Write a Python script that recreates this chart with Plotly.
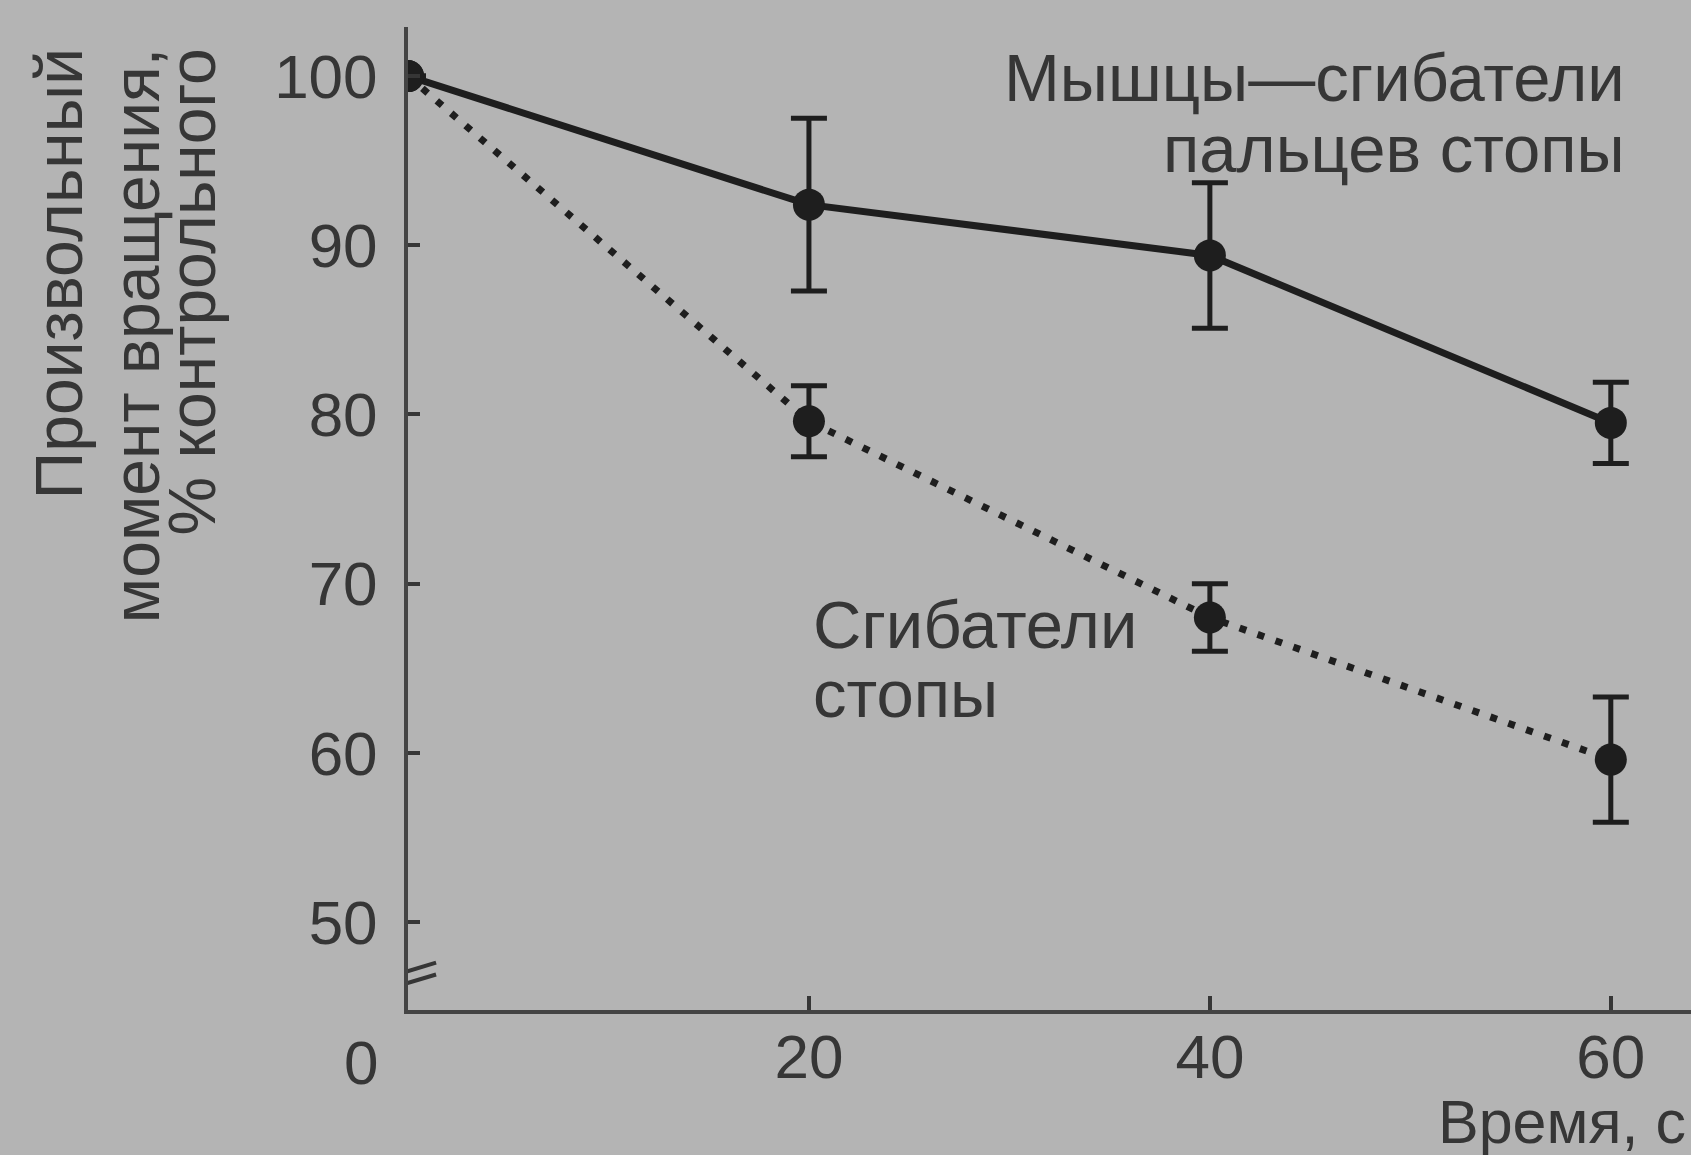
import plotly.graph_objects as go

# time, s
time_s = [0, 20, 40, 60]

# toe flexors (solid line)
toe_flexors = [100, 92.4, 89.4, 79.5]
toe_err = [0, 5.1, 4.3, 2.4]

# foot flexors (dotted line)
foot_flexors = [100, 79.6, 68.0, 59.6]
foot_err = [0, 2.1, 2.0, 3.7]

y_ticks = [50, 60, 70, 80, 90, 100]
x_ticks = [20, 40, 60]

y_title_lines = ["Произвольный", "момент вращения,", "% контрольного"]
toe_label = ["Мышцы—сгибатели", "пальцев стопы"]
foot_label = ["Сгибатели", "стопы"]

bg = "#b4b4b4"
ink = "#363636"
line_col = "#1e1e1e"
font = "Liberation Sans, Arial, sans-serif"

fig = go.Figure()

fig.add_trace(go.Scatter(
	x=time_s, y=toe_flexors,
	mode="lines+markers",
	line=dict(color=line_col, width=7),
	marker=dict(color=line_col, size=32),
	error_y=dict(type="data", array=toe_err, visible=True, color=line_col, thickness=5, width=18),
	showlegend=False,
))

fig.add_trace(go.Scatter(
	x=time_s, y=foot_flexors,
	mode="lines+markers",
	line=dict(color=line_col, width=7, dash="7px,12px"),
	marker=dict(color=line_col, size=32),
	error_y=dict(type="data", array=foot_err, visible=True, color=line_col, thickness=5, width=18),
	showlegend=False,
))

text_font = dict(size=67, color=ink, family=font)

for txt, yy in zip(toe_label, [99.9, 95.7]):
	fig.add_annotation(x=60.8, y=yy, xref="x", yref="y", text=txt, showarrow=False,
		xanchor="right", yanchor="middle", font=text_font)

for txt, yy in zip(foot_label, [67.6, 63.5]):
	fig.add_annotation(x=20.1, y=yy, xref="x", yref="y", text=txt, showarrow=False,
		xanchor="left", yanchor="middle", font=text_font)

for txt, xx in zip(y_title_lines, [-0.272, -0.212, -0.168]):
	fig.add_annotation(x=xx, y=0.98, xref="paper", yref="paper", text=txt, textangle=-90,
		showarrow=False, xanchor="center", yanchor="top", font=dict(size=66, color=ink, family=font))

fig.add_annotation(
	x=1, y=-0.114, xref="paper", yref="paper", xshift=-3,
	text="Время, с",
	showarrow=False, xanchor="right", yanchor="middle",
	font=dict(size=61, color=ink, family=font),
)
fig.add_annotation(
	x=0, y=-0.053, xref="x", yref="paper", xshift=-47,
	text="0",
	showarrow=False, xanchor="center", yanchor="middle",
	font=dict(size=62, color=ink, family=font),
)

# axis break on the y axis
fig.add_shape(type="rect", xref="x", yref="y", x0=-0.5, x1=0.5, y0=46.9, y1=47.7,
	fillcolor=bg, line=dict(width=0), layer="above")
fig.add_shape(type="line", xref="x", yref="y", x0=-1.4, y0=46.6, x1=1.4, y1=47.6,
	line=dict(color=ink, width=4), layer="above")
fig.add_shape(type="line", xref="x", yref="y", x0=-1.4, y0=45.9, x1=1.4, y1=46.9,
	line=dict(color=ink, width=4), layer="above")

fig.update_layout(
	width=1691, height=1155,
	margin=dict(l=408, r=0, t=27, b=145),
	paper_bgcolor=bg, plot_bgcolor=bg,
	font=dict(family=font, color=ink, size=62),
	xaxis=dict(
		range=[0, 64], tickvals=x_ticks, ticks="inside", ticklen=14, tickwidth=4, tickcolor=ink,
		showline=True, linecolor="#444444", linewidth=4, showgrid=False, zeroline=False,
		ticklabelstandoff=-10, tickfont=dict(size=62, color=ink),
	),
	yaxis=dict(
		range=[44.8, 102.9], tickvals=y_ticks, ticks="inside", ticklen=12, tickwidth=4, tickcolor=ink,
		showline=True, linecolor="#444444", linewidth=4, showgrid=False, zeroline=False,
		ticklabelstandoff=14, tickfont=dict(size=62, color=ink),
	),
)

fig.write_html("out.html", config={"displayModeBar": False},
	post_script="document.body.style.margin='0';")
